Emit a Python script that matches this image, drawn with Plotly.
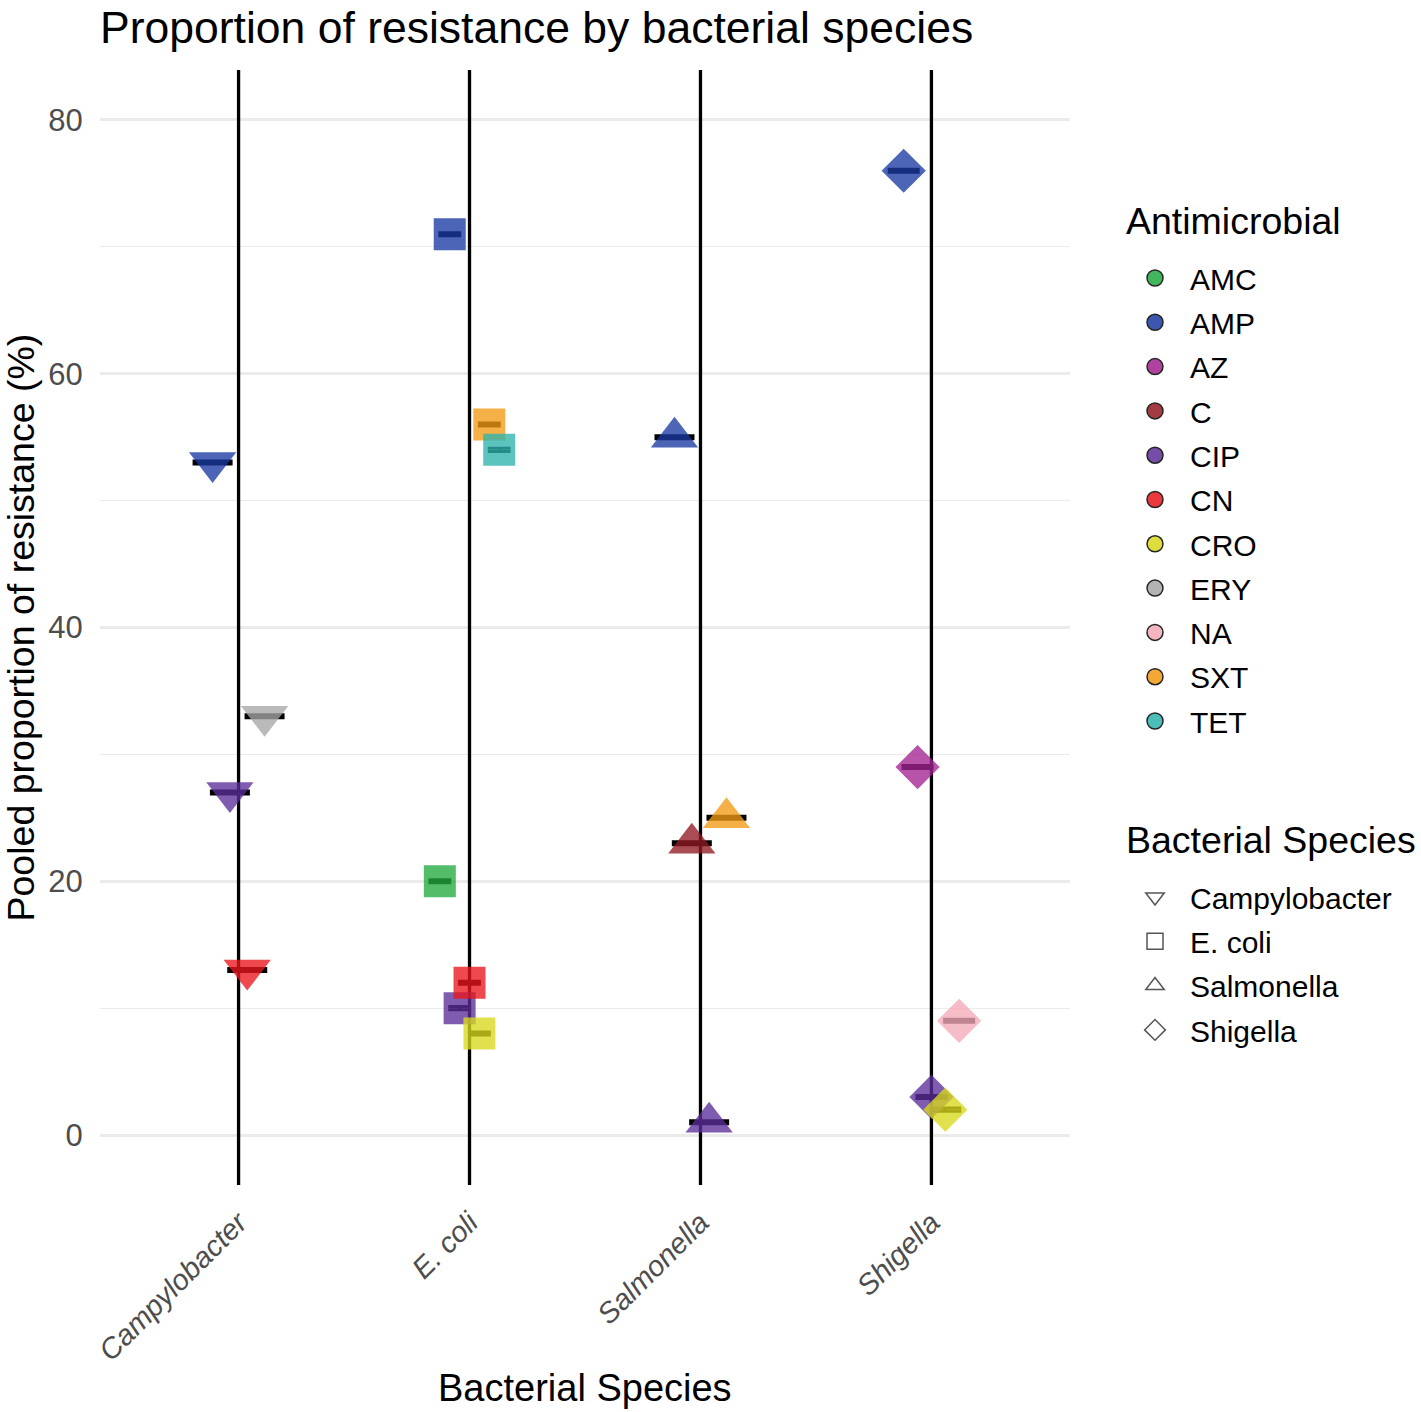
import plotly.graph_objects as go

# ---------------- data ----------------
species = ["Campylobacter", "E. coli", "Salmonella", "Shigella"]
species_symbols = ["triangle-down", "square", "triangle-up", "diamond"]
species_sizes = [41, 32, 41, 34]

antimicrobials = ["AMC", "AMP", "AZ", "C", "CIP", "CN", "CRO", "ERY", "NA", "SXT", "TET"]
abx_colors = ["#22AA40", "#1A3AA2", "#A3238F", "#921A22", "#5B2E98", "#E8161D",
              "#D8D81C", "#A6A6A6", "#F3A9B7", "#F29A14", "#2DB3AC"]

campy_abx = ["AMP", "CIP", "CN", "ERY"]
campy_vals = [53, 27, 13, 33]

ecoli_abx = ["AMC", "AMP", "CIP", "CN", "CRO", "SXT", "TET"]
ecoli_vals = [20, 71, 10, 12, 8, 56, 54]

salm_abx = ["AMP", "C", "CIP", "SXT"]
salm_vals = [55, 23, 1, 25]

shig_abx = ["AMP", "AZ", "CIP", "CRO", "NA"]
shig_vals = [76, 29, 3, 2, 9]

groups = [(campy_abx, campy_vals), (ecoli_abx, ecoli_vals),
          (salm_abx, salm_vals), (shig_abx, shig_vals)]

y_range = [-3.94, 83.94]
y_ticks = [0, 20, 40, 60, 80]
y_minor = [10, 30, 50, 70]

color_of = dict(zip(antimicrobials, abx_colors))
DODGE = 0.3
ALPHA = 0.78
FONT = "Liberation Sans, Arial, Helvetica, sans-serif"
W, H = 1421, 1412

fig = go.Figure()

# vertical category lines (full panel height)
for si in range(len(species)):
    fig.add_trace(go.Scatter(
        x=[si, si], y=y_range, mode="lines",
        line=dict(color="black", width=3.3),
        showlegend=False, hoverinfo="skip"))

# error bars (drawn under points)
for si, (abx, vals) in enumerate(groups):
    n = len(abx)
    xs = [si + (j - (n - 1) / 2) * DODGE / n for j in range(n)]
    fig.add_trace(go.Scatter(
        x=xs, y=vals, mode="markers",
        marker=dict(size=1, opacity=0),
        error_y=dict(type="data", array=[0.12] * n, color="black",
                     thickness=3.0, width=80 / n),
        showlegend=False, hoverinfo="skip"))

# points
for si, (abx, vals) in enumerate(groups):
    n = len(abx)
    for j, (a, v) in enumerate(zip(abx, vals)):
        x = si + (j - (n - 1) / 2) * DODGE / n
        fig.add_trace(go.Scatter(
            x=[x], y=[v], mode="markers",
            marker=dict(symbol=species_symbols[si], size=species_sizes[si],
                        color=color_of[a], opacity=ALPHA, line=dict(width=0)),
            name=a, showlegend=False,
            hovertemplate=f"{species[si]}<br>{a}: %{{y}}%<extra></extra>"))

# legend: antimicrobial
for a in antimicrobials:
    fig.add_trace(go.Scatter(
        x=[None], y=[None], mode="markers",
        marker=dict(symbol="circle", size=16, color=color_of[a], opacity=0.85,
                    line=dict(width=1.5, color="black")),
        name=a, legend="legend", legendgroup=a, showlegend=True))

# legend: species
for s, sym in zip(species, species_symbols):
    fig.add_trace(go.Scatter(
        x=[None], y=[None], mode="markers",
        marker=dict(symbol=sym + "-open", size=16, color="#555555",
                    line=dict(width=1.5, color="#555555")),
        name=s, legend="legend2", legendgroup=s, showlegend=True))

legend_common = dict(font=dict(size=30, color="black"),
                     xref="container", yref="container", xanchor="left", yanchor="top",
                     traceorder="grouped", tracegroupgap=2.3, itemsizing="trace",
                     itemwidth=60, bgcolor="rgba(0,0,0,0)")

fig.update_layout(
    width=W, height=H,
    margin=dict(l=100, r=351, t=70, b=227),
    paper_bgcolor="white", plot_bgcolor="white",
    font=dict(family=FONT, color="black"),
    title=dict(text="Proportion of resistance by bacterial species",
               x=100 / W, xanchor="left", xref="container",
               y=1 - 27 / H, yanchor="middle", yref="container",
               font=dict(size=44.5, color="black", family=FONT)),
    xaxis=dict(range=[-0.6, 3.6], tickmode="array",
               tickvals=list(range(len(species))), ticktext=species,
               tickangle=-45, showgrid=False, zeroline=False, showline=False,
               ticks="outside", ticklen=8, tickcolor="rgba(0,0,0,0)",
               tickfont=dict(size=29, color="#4D4D4D", style="italic"),
               automargin=False),
    yaxis=dict(range=y_range, tickmode="array", tickvals=y_ticks,
               showgrid=True, gridcolor="#EBEBEB", gridwidth=2.6,
               zeroline=False, showline=False,
               ticks="outside", ticklen=10, tickcolor="rgba(0,0,0,0)",
               tickfont=dict(size=31, color="#4D4D4D"),
               minor=dict(tickvals=y_minor, showgrid=True,
                          gridcolor="#EBEBEB", gridwidth=1.4),
               automargin=False),
    annotations=[
        dict(text="Bacterial Species", xref="paper", yref="paper",
             x=0.5, y=(1185 - 1388) / 1115, xanchor="center", yanchor="middle",
             showarrow=False, font=dict(size=38, color="black")),
        dict(text="Pooled proportion of resistance (%)", xref="paper", yref="paper",
             x=(20 - 100) / 970, y=0.5, xanchor="center", yanchor="middle",
             textangle=-90, showarrow=False, font=dict(size=37.5, color="black")),
        dict(text="Antimicrobial", xref="paper", yref="paper",
             x=(1124 - 100) / 970, y=(1185 - 221) / 1115, xanchor="left", yanchor="middle",
             showarrow=False, font=dict(size=37.5, color="black")),
        dict(text="Bacterial Species", xref="paper", yref="paper",
             x=(1124 - 100) / 970, y=(1185 - 840) / 1115, xanchor="left", yanchor="middle",
             showarrow=False, font=dict(size=37.5, color="black")),
    ],
    legend=dict(x=1120 / W, y=1 - 252 / H, **legend_common),
    legend2=dict(x=1120 / W, y=1 - 871 / H, **legend_common),
)

fig.write_html("out.html", config={"displayModeBar": False},
               post_script="document.body.style.margin='0';")
